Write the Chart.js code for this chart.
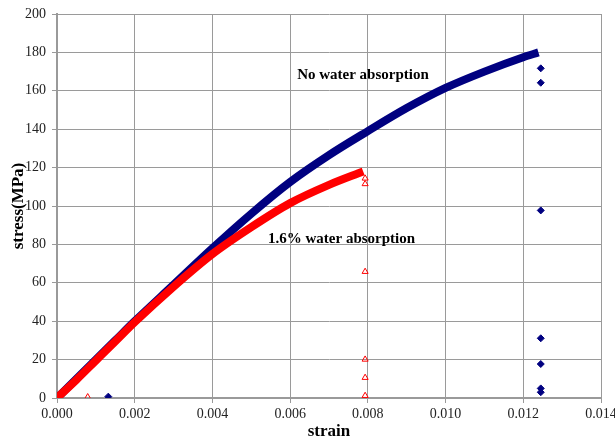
<!DOCTYPE html>
<html>
<head>
<meta charset="utf-8">
<script src="https://cdn.jsdelivr.net/npm/chart.js@4"></script>
<style>
  html, body { margin: 0; padding: 0; background: #fff; }
  #wrap { width: 615px; height: 442px; }
</style>
</head>
<body>
<div id="wrap"><canvas id="chart" width="615" height="442"></canvas></div>
<script>
// curve: no water absorption
const dryStrain = [0, 0.0005, 0.001, 0.0015, 0.002, 0.003, 0.004, 0.005, 0.006, 0.007, 0.008, 0.009, 0.010, 0.011, 0.012, 0.01239];
const dryStress = [0, 10, 20, 30, 40, 59, 78, 96, 112.5, 126.5, 139, 151, 161.5, 170, 177.5, 180];

// curve: 1.6% water absorption
const wetStrain = [0, 0.0005, 0.001, 0.0015, 0.002, 0.003, 0.004, 0.005, 0.006, 0.007, 0.00788];
const wetStress = [0, 9.5, 19.5, 29.5, 39.5, 58, 75, 89, 101.5, 111, 118];

// loose points after failure
const dryTailStrain = [0.00132, 0.01245, 0.01245, 0.01245, 0.01245, 0.01245, 0.01245, 0.01245];
const dryTailStress = [0.7, 171.7, 164.2, 97.7, 31.1, 17.7, 5, 3];
const wetTailStrain = [0.00079, 0.00793, 0.00793, 0.00793, 0.00793, 0.00793, 0.00793];
const wetTailStress = [0.5, 114.4, 111.5, 65.8, 20.1, 10.6, 1.2];

const xTicks = [0, 0.002, 0.004, 0.006, 0.008, 0.010, 0.012, 0.014];

const labels = [
  { text: "No water absorption", x: 0.00618, y: 168 },
  { text: "1.6% water absorption", x: 0.00543, y: 83 }
];

const pts = (xs, ys) => xs.map((x, i) => ({ x: x, y: ys[i] }));

const NAVY = "#000080";
const RED = "#ff0000";
const GRID = "#9a9a9a";

// text labels placed in data space
const curveLabels = {
  id: "curveLabels",
  afterDatasetsDraw(chart) {
    const { ctx, scales } = chart;
    ctx.save();
    ctx.font = "bold 15px 'Liberation Serif', 'Times New Roman', serif";
    ctx.fillStyle = "#000";
    ctx.textBaseline = "middle";
    ctx.textAlign = "left";
    labels.forEach(l => {
      ctx.fillText(l.text, scales.x.getPixelForValue(l.x), scales.y.getPixelForValue(l.y));
    });
    ctx.restore();
  }
};

new Chart(document.getElementById("chart"), {
  type: "scatter",
  data: {
    datasets: [
      {
        data: pts(wetStrain, wetStress),
        showLine: true,
        borderColor: RED,
        borderWidth: 8,
        pointRadius: 0,
        cubicInterpolationMode: "monotone",
        order: 0
      },
      {
        data: pts(dryStrain, dryStress),
        showLine: true,
        borderColor: NAVY,
        borderWidth: 8,
        pointRadius: 0,
        cubicInterpolationMode: "monotone",
        order: 1
      },
      {
        data: pts(wetTailStrain, wetTailStress),
        pointStyle: "triangle",
        pointRadius: 3.5,
        borderColor: RED,
        borderWidth: 1,
        backgroundColor: "rgba(255,255,255,0)",
        order: 2
      },
      {
        data: pts(dryTailStrain, dryTailStress),
        pointStyle: "rectRot",
        pointRadius: 3.5,
        borderColor: NAVY,
        borderWidth: 1,
        backgroundColor: NAVY,
        order: 3
      }
    ]
  },
  options: {
    responsive: false,
    animation: false,
    events: [],
    layout: { padding: { top: 14, right: 14, left: 0, bottom: 0 } },
    plugins: { legend: { display: false }, tooltip: { enabled: false } },
    scales: {
      x: {
        type: "linear",
        min: 0,
        max: 0.014,
        afterBuildTicks: s => { s.ticks = xTicks.map(v => ({ value: v })); },
        afterFit: s => { s.height = 44; s.paddingLeft = 0; s.paddingRight = 0; },
        ticks: {
          color: "#222",
          padding: 3,
          maxRotation: 0,
          font: { family: "'Liberation Serif', 'Times New Roman', serif", size: 14 },
          callback: v => Number(v).toFixed(3)
        },
        grid: { color: GRID, lineWidth: 1, tickLength: 5, drawTicks: true },
        border: { color: GRID, width: 2 },
        title: {
          display: true,
          text: "strain",
          color: "#000",
          padding: { top: 0, bottom: 0 },
          font: { family: "'Liberation Serif', 'Times New Roman', serif", size: 17, weight: "bold" }
        }
      },
      y: {
        min: 0,
        max: 200,
        afterFit: s => { s.width = 57; s.paddingTop = 0; s.paddingBottom = 0; },
        ticks: {
          stepSize: 20,
          color: "#222",
          padding: 6,
          font: { family: "'Liberation Serif', 'Times New Roman', serif", size: 14 }
        },
        grid: { color: GRID, lineWidth: 1, tickLength: 5, drawTicks: true },
        border: { color: GRID, width: 2 },
        title: {
          display: true,
          text: "stress(MPa)",
          color: "#000",
          padding: { top: 8, bottom: 0 },
          font: { family: "'Liberation Serif', 'Times New Roman', serif", size: 17, weight: "bold" }
        }
      }
    }
  },
  plugins: [curveLabels]
});
</script>
</body>
</html>
